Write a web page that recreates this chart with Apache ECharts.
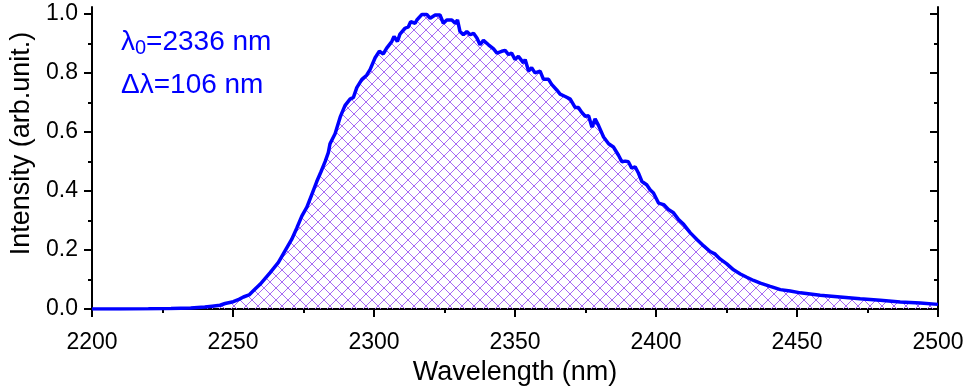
<!DOCTYPE html>
<html>
<head>
<meta charset="utf-8">
<script src="https://cdn.jsdelivr.net/npm/echarts@6/dist/echarts.min.js"></script>
<style>
html,body{margin:0;padding:0;background:#fff;}
#chart{width:967px;height:391px;}
</style>
</head>
<body>
<div id="chart"></div>
<script>
// ---- data ----
const wavelength = [
  2200, 2210, 2220, 2228, 2235, 2240, 2242.6, 2245.4, 2247.2, 2250.1,
  2252.1, 2253.7, 2255.7, 2257.2, 2259.6, 2263.1, 2266.1, 2268.5, 2270.8, 2272.6,
  2274.4, 2276.2, 2277.9, 2279.7, 2281.2, 2282.7, 2283.8, 2284.4, 2286.2, 2288.0,
  2289.7, 2291.5, 2292.7, 2293.9, 2295.7, 2297.4, 2298.6, 2300.4, 2301.9, 2303.3,
  2304.5, 2306.3, 2307.1, 2308.3, 2309.2, 2311.0, 2312.2, 2313.0, 2314.6, 2315.2,
  2317.0, 2318.7, 2319.9, 2321.7, 2323.4, 2324.6, 2325.8, 2327.6, 2328.8, 2329.6,
  2330.5, 2331.7, 2332.9, 2334.1, 2335.3, 2336.5, 2337.6, 2338.8, 2340.6, 2342.4,
  2343.6, 2345.3, 2346.5, 2347.7, 2348.8, 2350.0, 2351.2, 2353.0, 2353.6, 2354.8,
  2355.9, 2357.1, 2358.9, 2360.1, 2361.9, 2363.0, 2364.8, 2366.0, 2367.8, 2369.6,
  2371.3, 2372.5, 2373.7, 2374.9, 2376.1, 2377.3, 2378.4, 2379.6, 2381.4, 2383.2,
  2384.9, 2386.7, 2387.9, 2389.1, 2390.2, 2391.4, 2392.6, 2393.8, 2395.0, 2396.7,
  2397.9, 2399.1, 2400.9, 2402.7, 2404.4, 2406.2, 2408.0, 2409.8, 2412.1, 2414.5,
  2416.9, 2419.2, 2421.0, 2422.8, 2425.1, 2427.5, 2429.9, 2432.2, 2434.6, 2437.0,
  2440.5, 2444.1, 2447.6, 2451.2, 2458.2, 2465.3, 2472.4, 2479.5, 2486.6, 2493.7,
  2500
];
const intensity = [
  0.000, 0.000, 0.001, 0.002, 0.004, 0.007, 0.010, 0.013, 0.019, 0.025,
  0.033, 0.041, 0.048, 0.062, 0.084, 0.123, 0.158, 0.198, 0.236, 0.274,
  0.315, 0.345, 0.387, 0.432, 0.465, 0.500, 0.530, 0.560, 0.594, 0.650,
  0.689, 0.711, 0.717, 0.750, 0.778, 0.792, 0.811, 0.851, 0.873, 0.864,
  0.884, 0.906, 0.923, 0.906, 0.931, 0.951, 0.956, 0.973, 0.968, 0.979,
  0.998, 0.998, 0.985, 0.996, 0.996, 0.968, 0.979, 0.979, 0.968, 0.979,
  0.940, 0.929, 0.940, 0.929, 0.934, 0.918, 0.895, 0.910, 0.895, 0.881,
  0.867, 0.873, 0.876, 0.862, 0.867, 0.845, 0.856, 0.834, 0.845, 0.806,
  0.817, 0.800, 0.806, 0.778, 0.778, 0.761, 0.742, 0.728, 0.720, 0.711,
  0.683, 0.683, 0.666, 0.653, 0.655, 0.616, 0.644, 0.622, 0.583, 0.560,
  0.549, 0.521, 0.499, 0.501, 0.499, 0.477, 0.482, 0.460, 0.432, 0.421,
  0.404, 0.393, 0.359, 0.354, 0.337, 0.326, 0.303, 0.287, 0.259, 0.236,
  0.214, 0.195, 0.186, 0.169, 0.153, 0.133, 0.119, 0.108, 0.097, 0.088,
  0.077, 0.066, 0.061, 0.055, 0.047, 0.041, 0.035, 0.030, 0.024, 0.021,
  0.016
];
const xTicks = [2200, 2250, 2300, 2350, 2400, 2450, 2500];
const yMajorTicks = [0.0, 0.2, 0.4, 0.6, 0.8, 1.0];
const yMinorTicks = [0.1, 0.3, 0.5, 0.7, 0.9];
const annotationLines = ['λ', '0', '=2336 nm', 'Δλ=106 nm'];

// ---- chart ----
const FONT = 'Arial, "Liberation Sans", sans-serif';
const BLUE = '#0000ff';
const seriesData = wavelength.map((w, i) => [w, intensity[i]]);

// cross-hatch pattern tile (crisp 1px diagonals)
const T = 12;
const tile = document.createElement('canvas');
tile.width = T; tile.height = T;
const tc = tile.getContext('2d');
tc.fillStyle = '#a76af3';
for (let i = 0; i < T; i++) {
  tc.fillRect(i, i, 1, 1);
  tc.fillRect(T - 1 - i, i, 1, 1);
}

const chart = echarts.init(document.getElementById('chart'), null, {renderer: 'canvas'});

const axisLine = {show: true, lineStyle: {color: '#000', width: 2}};
const xMin = xTicks[0], xMax = xTicks[xTicks.length - 1];
const yMax = 1.023;

function xAx(pos, inside, showLabel) {
  return {
    type: 'value', position: pos, min: xMin, max: xMax, interval: xTicks[1] - xTicks[0],
    axisLine: axisLine,
    axisTick: {show: true, inside: inside, length: 8, lineStyle: {color: '#000', width: 2}},
    minorTick: {show: true, splitNumber: 2, length: 4, lineStyle: {color: '#000', width: 2}},
    axisLabel: {show: showLabel, fontSize: 23, color: '#000', fontFamily: FONT, margin: 22,
                formatter: v => String(v)},
    splitLine: {show: false}, minorSplitLine: {show: false},
    name: showLabel ? 'Wavelength (nm)' : '',
    nameLocation: 'middle', nameGap: 47,
    nameTextStyle: {fontSize: 27, color: '#000', fontFamily: FONT}
  };
}
function yAx(pos, inside, ticks, len, showLine, showLabel) {
  return {
    type: 'value', position: pos, min: 0, max: yMax,
    axisLine: showLine ? axisLine : {show: false},
    axisTick: {show: true, inside: inside, length: len, customValues: ticks,
               lineStyle: {color: '#000', width: 2}},
    axisLabel: {show: showLabel, customValues: ticks, fontSize: 23, color: '#000',
                fontFamily: FONT, margin: 14, formatter: v => v.toFixed(1)},
    splitLine: {show: false},
    name: showLabel ? 'Intensity (arb.unit.)' : '',
    nameLocation: 'middle', nameGap: 55,
    nameTextStyle: {fontSize: 27, color: '#000', fontFamily: FONT, padding: [0, 0, 0, 29]}
  };
}

chart.setOption({
  animation: false,
  backgroundColor: '#fff',
  grid: {left: 92, right: 29, top: 7, bottom: 79, containLabel: false},
  xAxis: [xAx('bottom', false, true), xAx('top', true, false)],
  yAxis: [
    yAx('left', false, yMajorTicks, 8, true, true),
    yAx('right', true, yMajorTicks, 8, true, false),
    yAx('left', false, yMinorTicks, 4, false, false),
    yAx('right', true, yMinorTicks, 4, false, false)
  ],
  graphic: [
    {
      type: 'text', left: 121, top: 28,
      style: {
        text: '{a|' + annotationLines[0] + '}{s|' + annotationLines[1] + '}{a|' + annotationLines[2] + '}',
        rich: {
          a: {fontSize: 28, lineHeight: 32, fontFamily: FONT, fill: BLUE},
          s: {fontSize: 20, lineHeight: 18, verticalAlign: 'bottom', fontFamily: FONT, fill: BLUE}
        }
      }
    },
    {
      type: 'text', left: 121, top: 71,
      style: {
        text: '{a|' + annotationLines[3] + '}',
        rich: {a: {fontSize: 28, lineHeight: 32, fontFamily: FONT, fill: BLUE}}
      }
    }
  ],
  series: [{
    type: 'line',
    xAxisIndex: 0, yAxisIndex: 0,
    data: seriesData,
    showSymbol: false,
    smooth: false,
    lineStyle: {color: BLUE, width: 3.5},
    areaStyle: {color: {image: tile, repeat: 'repeat'}, opacity: 1},
    z: 3
  }]
});
</script>
</body>
</html>
